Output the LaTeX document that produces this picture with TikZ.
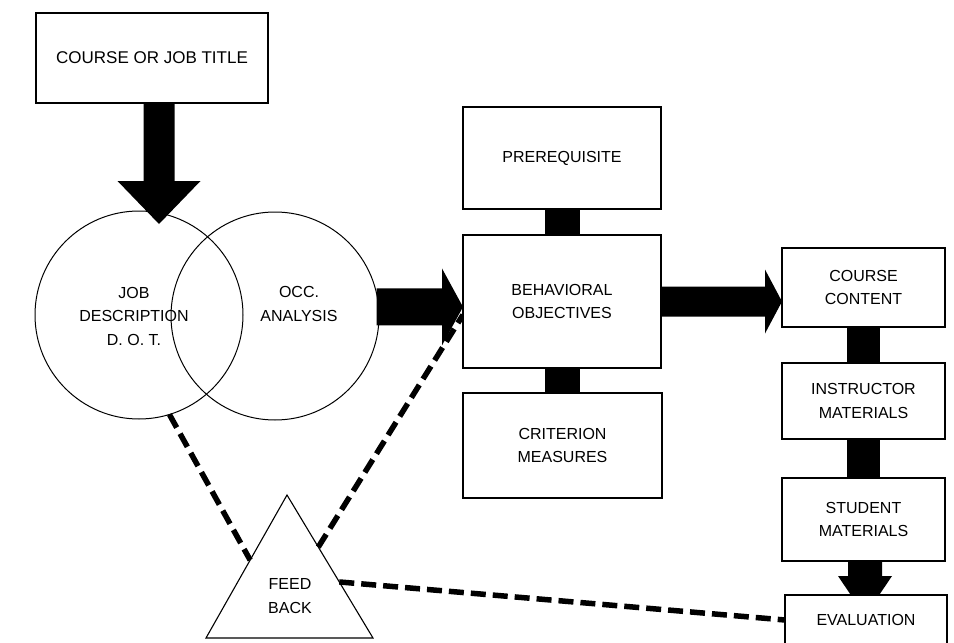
\documentclass[tikz,border=0pt]{standalone}
\usepackage{fontspec}
\setmainfont{Liberation Sans}
\usetikzlibrary{calc,backgrounds}
\tikzset{
  box/.style={draw, line width=1.3pt, fill=white, inner sep=0pt, outer sep=0pt, align=center, font=\fontsize{16}{23.5}\selectfont},
  ring/.style={draw, circle, line width=1pt, minimum size=208pt, inner sep=0pt, outer sep=0pt},
  lbl/.style={align=center, inner sep=0pt, font=\fontsize{16}{23.5}\selectfont},
  fbdash/.style={line width=5.5pt, dash pattern=on 15pt off 7pt},
  tri/.style={line width=1.1pt, line join=miter}
}
\begin{document}
\begin{tikzpicture}[x=1pt,y=-1pt]
\useasboundingbox (0,0) rectangle (954,643);

% boxes
\node[box, minimum width=232, minimum height=90, font=\fontsize{17}{23.5}\selectfont] (title) at (152,58) {COURSE OR JOB TITLE};
\node[box, minimum width=198, minimum height=102] (pre) at (562,158) {PREREQUISITE};
\node[box, minimum width=198, minimum height=133] (beh) at (562,301.5) {BEHAVIORAL\\OBJECTIVES};
\node[box, minimum width=199, minimum height=105] (cri) at (562.5,445.5) {CRITERION\\MEASURES};
\node[box, minimum width=163, minimum height=79] (cc) at (863.5,287.5) {COURSE\\CONTENT};
\node[box, minimum width=163, minimum height=76] (ins) at (863.5,401) {INSTRUCTOR\\MATERIALS};
\node[box, minimum width=163, minimum height=83] (stu) at (863.5,519.5) {STUDENT\\MATERIALS};
\node[box, minimum width=162, minimum height=50] (eva) at (866,620) {EVALUATION};

% circles
\node[ring] (job) at (139,315) {};
\node[ring] (occ) at (275,316) {};
\node[lbl] (jobtext) at (134,316) {JOB\\DESCRIPTION\\D. O. T.};
\node[lbl] (occtext) at (299,304) {OCC.\\ANALYSIS};

% feedback triangle
\coordinate (fbA) at (287,495);
\coordinate (fbB) at (206,638);
\coordinate (fbC) at (373,638);
\draw[tri] (fbA) -- (fbB) -- (fbC) -- cycle;
\node[lbl] (fbtext) at (290,596) {FEED\\BACK};

\begin{scope}[on background layer]
  % title -> circles
  \coordinate (t1) at (159,224);
  \coordinate (s1) at (t1 |- title.south);
  \fill ($(s1)+(-15.5,0)$) -- ($(s1)+(15.5,0)$) -- ($(t1)+(15.5,-43)$) -- ($(t1)+(41.5,-43)$) -- (t1)
        -- ($(t1)+(-41.5,-43)$) -- ($(t1)+(-15.5,-43)$) -- cycle;
  % occ -> behavioral
  \coordinate (a1s) at (occ.5.5);
  \coordinate (a1t) at (a1s -| beh.west);
  \fill ($(a1s)+(-2,-18.5)$) -- ($(a1t)+(-21,-18.5)$) -- ($(a1t)+(-21,-38.5)$) -- (a1t)
        -- ($(a1t)+(-21,38.5)$) -- ($(a1t)+(-21,18.5)$) -- ($(a1s)+(-2,18.5)$) -- cycle;
  % behavioral -> course content
  \coordinate (a2s) at (beh.east);
  \coordinate (a2t) at (beh.east -| cc.west);
  \fill ($(a2s)+(0,-15)$) -- ($(a2t)+(-17,-15)$) -- ($(a2t)+(-17,-32)$) -- (a2t)
        -- ($(a2t)+(-17,32)$) -- ($(a2t)+(-17,15)$) -- ($(a2s)+(0,15)$) -- cycle;
  % student -> evaluation
  \coordinate (a3s) at (stu.south);
  \coordinate (a3t) at ($(stu.south)+(1.5,55)$);
  \fill ($(a3s)+(-15.5,0)$) -- ($(a3s)+(18.5,0)$) -- ($(a3t)+(17,-40)$) -- ($(a3t)+(27,-40)$) -- (a3t)
        -- ($(a3t)+(-27,-40)$) -- ($(a3t)+(-17,-40)$) -- cycle;
  % bars
  \fill ($(pre.south)+(-17.5,0)$) rectangle ($(beh.north)+(17.5,0)$);
  \fill ($(beh.south)+(-17.5,0)$) rectangle ($(cri.north)+(17.5,0)$);
  \fill ($(cc.south)+(-16.5,0)$) rectangle ($(ins.north)+(16.5,0)$);
  \fill ($(ins.south)+(-16.5,0)$) rectangle ($(stu.north)+(16.5,0)$);
  % feedback dashes
  \draw[fbdash] (job.-73.8) -- ($(fbA)!0.455!(fbB)$);
  \draw[fbdash] ($(fbA)!0.364!(fbC)$) -- ($(beh.south west)!0.4!(beh.north west)$);
  \draw[fbdash] ($(fbA)!0.608!(fbC)$) -- (eva.west);
\end{scope}
\end{tikzpicture}
\end{document}
